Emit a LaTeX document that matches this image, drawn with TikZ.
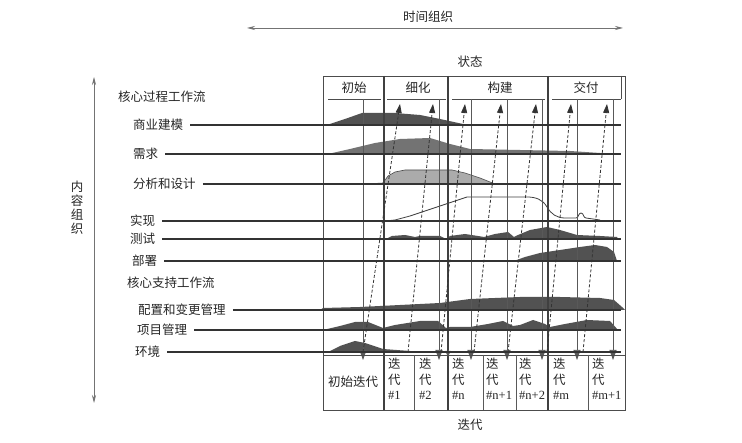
\documentclass[tikz,border=0pt]{standalone}
\usepackage{fontspec}
\setmainfont{Liberation Serif}
\newfontfamily\cjk{Noto Sans CJK SC}
\usetikzlibrary{arrows.meta}
\begin{document}
\begin{tikzpicture}[x=1pt,y=-1pt,
  lbl/.style={font=\cjk\fontsize{12.5}{14}\selectfont,inner sep=0pt,text=black!85},
  cell/.style={font=\fontsize{12.5}{15.5}\selectfont,inner sep=0pt,align=left,anchor=north west,text=black!85},
  base/.style={draw=black!80,line width=1.3pt},
  gridln/.style={draw=black!65,line width=0.7pt},
  phaseln/.style={draw=black!75,line width=1.3pt},
  framel/.style={draw=black!70,line width=0.9pt},
  itdash/.style={draw=black!80,line width=0.8pt,dash pattern=on 3pt off 2pt,-{Triangle[width=6pt,length=9pt]}},
  downarr/.style={gridln,-{Triangle[width=7pt,length=10pt]}},
  dk/.style={fill=black!68},
  md/.style={fill=black!55},
  lt/.style={fill=black!33,draw=black!70,line width=0.6pt},
  axis/.style={draw=black!55,line width=0.7pt,{Stealth[length=8pt,width=4pt]}-{Stealth[length=8pt,width=4pt]}}
]
\useasboundingbox[fill=white] (0,0) rectangle (742,443);

% ---------- top axis ----------
\node[lbl] (tlabel) at (428,17) {时间组织};
\coordinate (tL) at (247,28);
\coordinate (tR) at (623,28);
\draw[axis] (tL) -- (tR);
\node[lbl] (state) at (470,62) {状态};

% ---------- left axis ----------
\coordinate (vT) at (94,77);
\coordinate (vB) at (94,403);
\draw[axis] (vB) -- (vT);
\node[lbl,align=center,font=\cjk\fontsize{12.5}{14}\selectfont] (content) at (77,208) {内\\容\\组\\织};

% ---------- humps ----------
% 商业建模
\fill[dk] (327,125) -- (345,119) -- (362,113) -- (395,113) -- (420,115) -- (440,119) -- (463,124) -- (470,125) -- cycle;
% 需求
\fill[md] (328,154) -- (350,149) -- (375,143) -- (400,139) -- (430,138) -- (450,144) -- (470,149) -- (520,150) -- (570,151) -- (600,153) -- (605,154) -- cycle;
% 分析和设计
\filldraw[lt] (365,184) -- (383,183) -- (388,176) -- (395,172) -- (405,170) -- (452,170) -- (465,173) -- (480,178) -- (495,184) -- cycle;
% 测试
\fill[dk] (386,239) -- (392,236) -- (405,235) -- (415,237) -- (420,236) -- (440,236) -- (446,239) -- (450,236) -- (465,234) -- (478,236) -- (484,237) -- (495,234) -- (508,232) -- (514,237) -- (518,235) -- (530,230) -- (547,227) -- (560,230) -- (577,235) -- (600,236) -- (617,237) -- (618,239) -- cycle;
% 部署
\fill[dk] (514,261) -- (525,257) -- (540,253) -- (560,250) -- (580,247) -- (595,245) -- (607,247) -- (614,252) -- (617,261) -- cycle;
% 配置和变更管理
\fill[dk] (320,310) -- (323,308) -- (360,307) -- (400,305) -- (440,303) -- (470,299) -- (520,297) -- (560,297) -- (600,298) -- (614,300) -- (622,307) -- (625,310) -- cycle;
% 项目管理
\fill[dk] (323,330) -- (340,326) -- (355,322) -- (368,322) -- (383,328) -- (395,325) -- (420,321) -- (438,321) -- (446,328) -- (450,327) -- (470,327) -- (488,324) -- (503,321) -- (513,326) -- (520,325) -- (533,320) -- (545,324) -- (550,327) -- (565,324) -- (587,320) -- (610,321) -- (618,330) -- cycle;
% 环境
\fill[dk] (328,352) -- (340,346) -- (355,341) -- (365,343) -- (383,349) -- (410,351) -- (415,352) -- cycle;
% 实现 (line only)
\draw[black!75,line width=0.8pt] (385,221) -- (395,220) -- (410,216) -- (440,206) -- (467,197) -- (527,197) to[out=0,in=120] (547,207) to[out=-60,in=180] (565,218) -- (576,218) to[out=0,in=180] (581,213) to[out=0,in=180] (586,218) -- (600,220);

% ---------- frame and header ----------
\coordinate (fTL) at (323,76);
\coordinate (fBR) at (625,410);
\draw[framel] (fTL) rectangle (fBR);
\foreach \a/\b in {328/381,387/446,452/545,552/621}{
  \draw[framel] (\a,99) -- (\b,99);
}
\draw[framel] (621,76) -- (621,99);
\node[lbl] (p1) at (354,88) {初始};
\node[lbl] (p2) at (418,88) {细化};
\node[lbl] (p3) at (500,88) {构建};
\node[lbl] (p4) at (586,88) {交付};

% phase lines
\foreach \x in {384,448,548}{
  \draw[phaseln] (\x,76) -- (\x,410);
}
% iteration grid lines with down arrows
\foreach \x in {363,439,471,507,542,577,613}{
  \draw[downarr] (\x,99) -- (\x,360);
}
\draw[gridln,-{Triangle[width=5pt,length=6pt]}] (448,350) -- (448,357);

% ---------- workflow labels and baselines ----------
\node[lbl,anchor=west] (core) at (118,97) {核心过程工作流};
\node[lbl,anchor=west] (bm) at (133,125) {商业建模};
\node[lbl,anchor=west] (rq) at (133,154) {需求};
\node[lbl,anchor=west] (ad) at (133,184) {分析和设计};
\node[lbl,anchor=west] (im) at (130,221) {实现};
\node[lbl,anchor=west] (ts) at (130,239) {测试};
\node[lbl,anchor=west] (dp) at (132,261) {部署};
\node[lbl,anchor=west] (supp) at (127,283) {核心支持工作流};
\node[lbl,anchor=west] (cm) at (138,310) {配置和变更管理};
\node[lbl,anchor=west] (pm) at (137,330) {项目管理};
\node[lbl,anchor=west] (ev) at (135,352) {环境};
\foreach \n/\y in {bm/125,rq/154,ad/184,im/221,ts/239,dp/261,cm/310,pm/330,ev/352}{
  \coordinate (\n E) at (621,\y);
  \draw[base] ([xshift=7pt]\n.east) -- (\n E);
}

% ---------- iteration dashed lines ----------
\foreach \i/\b/\t in {1/363/400,2/408/433,3/441/465,4/474/501,5/508/536,6/547/571,7/583/607}{
  \coordinate (db\i) at (\b,352);
  \coordinate (dt\i) at (\t,104);
  \draw[itdash] (db\i) -- (dt\i);
}

% ---------- iteration table ----------
\draw[framel] (323,355) -- (625,355);
\foreach \x in {414,483,516,588}{
  \draw[gridln] (\x,355) -- (\x,410);
}
\node[lbl] (it0) at (353,382) {初始迭代};
\node[cell] (it1) at (388,358) {{\cjk 迭}\\{\cjk 代}\\\#1};
\node[cell] (it2) at (419,358) {{\cjk 迭}\\{\cjk 代}\\\#2};
\node[cell] (it3) at (452,358) {{\cjk 迭}\\{\cjk 代}\\\#n};
\node[cell] (it4) at (486,358) {{\cjk 迭}\\{\cjk 代}\\\#n+1};
\node[cell] (it5) at (519,358) {{\cjk 迭}\\{\cjk 代}\\\#n+2};
\node[cell] (it6) at (553,358) {{\cjk 迭}\\{\cjk 代}\\\#m};
\node[cell] (it7) at (592,358) {{\cjk 迭}\\{\cjk 代}\\\#m+1};
\node[lbl] (iter) at (470,425) {迭代};
\end{tikzpicture}
\end{document}
